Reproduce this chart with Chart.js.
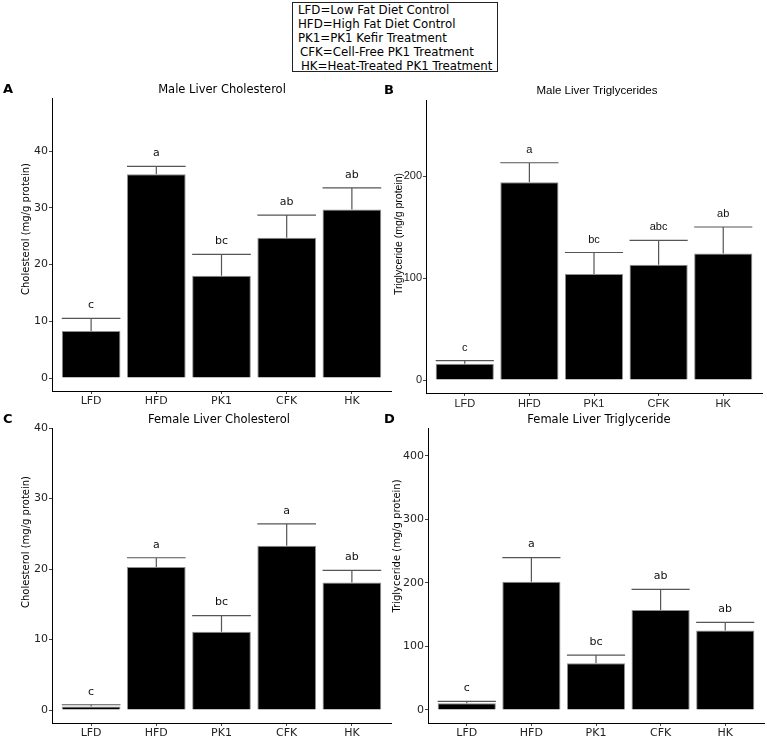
<!DOCTYPE html>
<html>
<head>
<meta charset="utf-8">
<script src="https://cdn.jsdelivr.net/npm/chart.js@4.4.1/dist/chart.umd.min.js"></script>
<style>
  body { margin: 0; background: #fff; width: 767px; height: 737px; position: relative; overflow: hidden; }
  canvas { position: absolute; }
  #key { position: absolute; left: 292px; top: 2px; width: 204px; height: 68px; border: 1.5px solid #222;
         font: 11.8px "DejaVu Sans"; line-height: 14px; color: #000; }
  #key div { padding-left: 5px; white-space: nowrap; }
</style>
</head>
<body>
<div id="key">
  <div>LFD=Low Fat Diet Control</div>
  <div>HFD=High Fat Diet Control</div>
  <div>PK1=PK1 Kefir Treatment</div>
  <div style="padding-left:7px">CFK=Cell-Free PK1 Treatment</div>
  <div style="padding-left:8px">HK=Heat-Treated PK1 Treatment</div>
</div>
<canvas id="pA" width="395" height="345" style="left:0;top:70px"></canvas>
<canvas id="pB" width="383" height="345" style="left:384px;top:70px"></canvas>
<canvas id="pC" width="395" height="327" style="left:0;top:410px"></canvas>
<canvas id="pD" width="383" height="327" style="left:384px;top:410px"></canvas>
<script>
// groups on the x axis
const categories = ["LFD", "HFD", "PK1", "CFK", "HK"];

// A: male liver cholesterol (mg/g protein)
const maleCholMean = [8.3, 35.9, 18.0, 24.7, 29.7];
const maleCholSem = [2.2, 1.4, 3.8, 4.0, 3.8];
const maleCholLetters = ["c", "a", "bc", "ab", "ab"];
const maleCholTicks = [0, 10, 20, 30, 40];

// B: male liver triglycerides (mg/g protein)
const maleTgMean = [16, 194, 104, 113, 124];
const maleTgSem = [3, 19, 21, 24, 26];
const maleTgLetters = ["c", "a", "bc", "abc", "ab"];
const maleTgTicks = [0, 100, 200];

// C: female liver cholesterol (mg/g protein)
const femaleCholMean = [0.5, 20.3, 11.1, 23.3, 18.1];
const femaleCholSem = [0.25, 1.3, 2.3, 3.1, 1.7];
const femaleCholLetters = ["c", "a", "bc", "a", "ab"];
const femaleCholTicks = [0, 10, 20, 30, 40];

// D: female liver triglyceride (mg/g protein)
const femaleTgMean = [10.5, 202, 73.5, 157.5, 125];
const femaleTgSem = [3.2, 38, 13, 32.5, 13];
const femaleTgLetters = ["c", "a", "bc", "ab", "ab"];
const femaleTgTicks = [0, 100, 200, 300, 400];

const DEJAVU = '"DejaVu Sans", Verdana, sans-serif';
const ARIAL = '"Liberation Sans", Arial, sans-serif';

// error bars (behind the bars), significance letters, titles
function panelPlugin(p) {
  return {
    id: 'panel',
    beforeDatasetsDraw(chart) {
      const { ctx, scales: { y } } = chart;
      const bars = chart.getDatasetMeta(0).data;
      ctx.save();
      ctx.strokeStyle = '#555';
      ctx.lineWidth = 1.2;
      bars.forEach((bar, i) => {
        const top = y.getPixelForValue(p.mean[i] + p.sem[i]);
        const half = bar.width / 2;
        ctx.beginPath();
        ctx.moveTo(bar.x, bar.y);
        ctx.lineTo(bar.x, top);
        ctx.moveTo(bar.x - half, top);
        ctx.lineTo(bar.x + half, top);
        ctx.stroke();
      });
      ctx.restore();
    },
    afterDatasetsDraw(chart) {
      const { ctx, scales: { y } } = chart;
      const bars = chart.getDatasetMeta(0).data;
      ctx.save();
      ctx.fillStyle = '#111';
      ctx.font = '11px ' + p.font;
      ctx.textAlign = 'center';
      ctx.textBaseline = 'middle';
      bars.forEach((bar, i) => {
        const top = y.getPixelForValue(p.mean[i] + p.sem[i]);
        ctx.fillText(p.letters[i], bar.x, top - 13);
      });
      ctx.restore();
    },
    afterDraw(chart) {
      const { ctx } = chart;
      ctx.save();
      ctx.fillStyle = '#000';
      ctx.textBaseline = 'middle';
      ctx.textAlign = 'center';
      ctx.font = p.titleSize + 'px ' + p.font;
      ctx.fillText(p.title, p.titleX, p.titleY);
      ctx.textAlign = 'left';
      ctx.font = 'bold 13px ' + DEJAVU;
      ctx.fillText(p.tag, p.tagX, p.titleY);
      ctx.translate(p.yTitleX, p.yTitleY);
      ctx.rotate(-Math.PI / 2);
      ctx.textAlign = 'center';
      ctx.font = p.yTitleSize + 'px ' + p.font;
      ctx.fillText(p.yTitle, 0, 0);
      ctx.restore();
    }
  };
}

function makePanel(canvasId, p) {
  const tickFont = { family: p.font, size: 11 };
  return new Chart(document.getElementById(canvasId), {
    type: 'bar',
    data: {
      datasets: [{
        data: p.mean.map((v, i) => ({ x: i + 1, y: v })),
        backgroundColor: '#000',
        borderColor: '#8f8f8f',
        borderWidth: 1,
        barPercentage: 0.9,
        categoryPercentage: 1
      }]
    },
    options: {
      responsive: false,
      animation: false,
      events: [],
      layout: { padding: { left: 0, top: p.top, right: p.right, bottom: 0 } },
      plugins: { legend: { display: false }, tooltip: { enabled: false } },
      scales: {
        x: {
          type: 'linear',
          min: 0.4,
          max: 5.6,
          offset: false,
          bounds: 'data',
          afterBuildTicks: s => { s.ticks = categories.map((c, i) => ({ value: i + 1 })); },
          afterFit: s => { s.height = p.xHeight; s.paddingLeft = 0; s.paddingRight = 0; },
          grid: { display: true, drawOnChartArea: false, offset: false, tickLength: 3, color: '#444' },
          border: { display: true, color: '#000', width: 1 },
          ticks: {
            autoSkip: false, maxRotation: 0, padding: 1, color: '#222', font: tickFont,
            callback: v => categories[v - 1]
          }
        },
        y: {
          min: p.yMin,
          max: p.yMax,
          bounds: 'data',
          afterBuildTicks: s => { s.ticks = p.ticks.map(v => ({ value: v })); },
          afterFit: s => { s.width = p.left; s.paddingTop = 0; s.paddingBottom = 0; },
          grid: { display: true, drawOnChartArea: false, tickLength: 3, color: '#444' },
          border: { display: true, color: '#000', width: 1 },
          ticks: { padding: 1, color: '#222', font: tickFont }
        }
      }
    },
    plugins: [panelPlugin(p)]
  });
}

makePanel('pA', {
  mean: maleCholMean, sem: maleCholSem, letters: maleCholLetters, ticks: maleCholTicks,
  yMin: -2.29, yMax: 49.34, font: DEJAVU,
  left: 52, top: 28, right: 4, xHeight: 24,
  title: 'Male Liver Cholesterol', titleSize: 11.5, titleX: 222, titleY: 20, tag: 'A', tagX: 3,
  yTitle: 'Cholesterol (mg/g protein)', yTitleSize: 10, yTitleX: 26, yTitleY: 159
});

makePanel('pB', {
  mean: maleTgMean, sem: maleTgSem, letters: maleTgLetters, ticks: maleTgTicks,
  yMin: -12.7, yMax: 274.5, font: ARIAL,
  left: 42, top: 30, right: 5, xHeight: 22,
  title: 'Male Liver Triglycerides', titleSize: 11.5, titleX: 213, titleY: 21, tag: 'B', tagX: 0,
  yTitle: 'Triglyceride (mg/g protein)', yTitleSize: 10.5, yTitleX: 15, yTitleY: 164
});

makePanel('pC', {
  mean: femaleCholMean, sem: femaleCholSem, letters: femaleCholLetters, ticks: femaleCholTicks,
  yMin: -1.84, yMax: 40, font: DEJAVU,
  left: 52, top: 18, right: 4, xHeight: 14,
  title: 'Female Liver Cholesterol', titleSize: 11.5, titleX: 219, titleY: 10, tag: 'C', tagX: 3,
  yTitle: 'Cholesterol (mg/g protein)', yTitleSize: 10, yTitleX: 26, yTitleY: 132
});

makePanel('pD', {
  mean: femaleTgMean, sem: femaleTgSem, letters: femaleTgLetters, ticks: femaleTgTicks,
  yMin: -20.5, yMax: 444, font: DEJAVU,
  left: 44, top: 18, right: 3, xHeight: 14,
  title: 'Female Liver Triglyceride', titleSize: 11.5, titleX: 215, titleY: 10, tag: 'D', tagX: 0,
  yTitle: 'Triglyceride (mg/g protein)', yTitleSize: 10, yTitleX: 13, yTitleY: 136
});
</script>
</body>
</html>
